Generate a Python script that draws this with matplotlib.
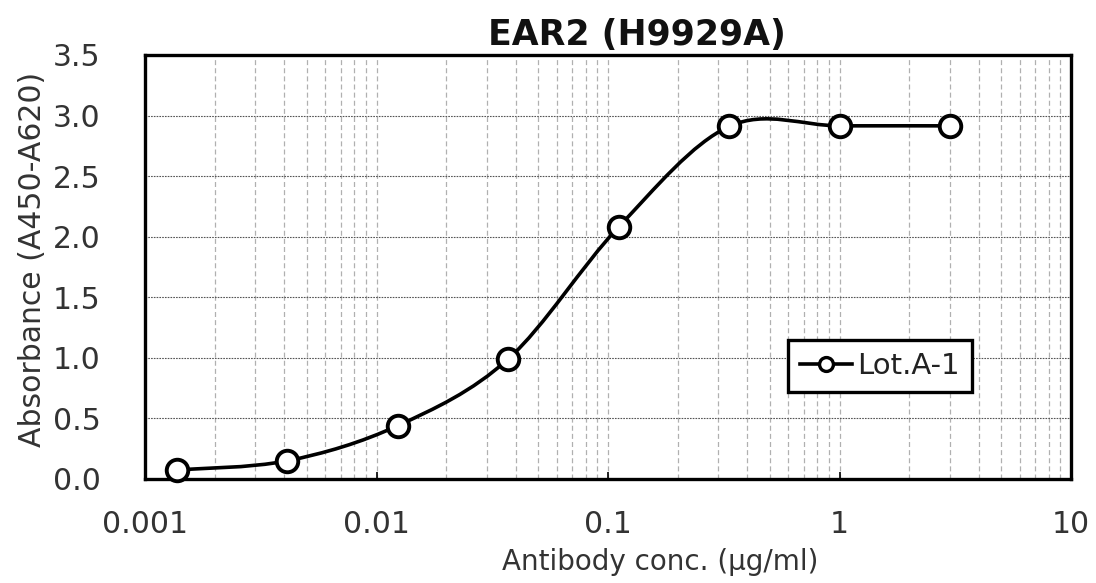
import numpy as np
import matplotlib
matplotlib.use('Agg')
import matplotlib.pyplot as plt
from matplotlib.path import Path
from matplotlib.patches import PathPatch
from matplotlib.lines import Line2D
from matplotlib.ticker import LogLocator, FixedLocator, NullFormatter

# data
conc = [3.0, 1.0, 0.3333, 0.1111, 0.03704, 0.01235, 0.004115, 0.001372]
absorb = [2.915, 2.915, 2.91, 2.08, 0.99, 0.44, 0.15, 0.075]
series_name = 'Lot.A-1'
x_ticks = [0.001, 0.01, 0.1, 1, 10]
x_tick_labels = ['0.001', '0.01', '0.1', '1', '10']
y_ticks = [0.0, 0.5, 1.0, 1.5, 2.0, 2.5, 3.0, 3.5]

plt.rcParams['font.family'] = ['DejaVu Sans']

fig = plt.figure(figsize=(10.96, 5.83), dpi=100)
ax = fig.add_axes([0.1323, 0.1784, 0.9772 - 0.1323, 0.9057 - 0.1784])
ax.set_xscale('log')
ax.set_xlim(0.001, 10)
ax.set_ylim(0, 3.5)

# grid
ax.set_yticks(y_ticks)
ax.set_yticklabels([f'{v:.1f}' for v in y_ticks])
ax.xaxis.set_major_locator(FixedLocator(x_ticks))
ax.set_xticklabels(x_tick_labels)
ax.xaxis.set_minor_locator(LogLocator(base=10, subs=np.arange(2, 10)))
ax.xaxis.set_minor_formatter(NullFormatter())
ax.grid(True, axis='y', which='major', color='#555555', linestyle=(0, (1.5, 1)), linewidth=0.8)
ax.grid(True, axis='x', which='both', color='#b0b0b0', linestyle=(0, (4, 2.5)), linewidth=0.9)
ax.set_axisbelow(True)

for s in ax.spines.values():
    s.set_linewidth(2.4)
    s.set_color('black')

ax.tick_params(axis='x', which='major', direction='in', length=5, width=1.2,
               labelsize=21.5, pad=22, colors='black', labelcolor='#333333')
ax.tick_params(axis='x', which='minor', length=0)
ax.tick_params(axis='y', which='major', length=0, labelsize=21.5, pad=32, labelcolor='#333333')

# smoothed line (Excel-style bezier in log-x space)
xs = np.log10(np.array(conc[::-1]))
ys = np.array(absorb[::-1])
pts = np.column_stack([xs, ys])
n = len(pts)
verts = [pts[0]]
codes = [Path.MOVETO]
for i in range(n - 1):
    p0 = pts[i - 1] if i > 0 else pts[i]
    p1 = pts[i]
    p2 = pts[i + 1]
    p3 = pts[i + 2] if i + 2 < n else pts[i + 1]
    c1 = p1 + (p2 - p0) / 6.0
    c2 = p2 - (p3 - p1) / 6.0
    verts += [c1, c2, p2]
    codes += [Path.CURVE4] * 3
verts = np.array(verts)
verts[:, 0] = 10 ** verts[:, 0]
curve = PathPatch(Path(verts, codes), facecolor='none', edgecolor='black',
                  linewidth=2.6, transform=ax.transData, zorder=3)
ax.add_patch(curve)
ax.plot(conc, absorb, linestyle='none', marker='o', markersize=15.5,
        markerfacecolor='white', markeredgecolor='black', markeredgewidth=2.8,
        zorder=4, clip_on=False)

handle = Line2D([], [], color='black', linewidth=2.6, marker='o', markersize=10,
                markerfacecolor='white', markeredgecolor='black', markeredgewidth=2.4)
leg = ax.legend([handle], [series_name], loc='lower left', bbox_to_anchor=(0.694, 0.205),
                borderaxespad=0, fontsize=21, frameon=True, fancybox=False,
                handlelength=1.8, handletextpad=0.15, borderpad=0.42, labelcolor='#222222')
leg.get_frame().set_edgecolor('black')
leg.get_frame().set_linewidth(2.4)
leg.get_frame().set_alpha(1)

ax.set_xlabel('Antibody conc. (μg/ml)', fontsize=20, color='#333333')
ax.xaxis.set_label_coords(0.556, -0.163)
ax.set_ylabel('Absorbance (A450-A620)', fontsize=21.5, color='#333333')
ax.yaxis.set_label_coords(-0.106, 0.517)
fig.text(637 / 1096, 1 - 35 / 583, 'EAR2 (H9929A)', fontsize=25, fontweight='bold',
         ha='center', va='center', color='#111111')

fig.savefig('out.png', dpi=100)
